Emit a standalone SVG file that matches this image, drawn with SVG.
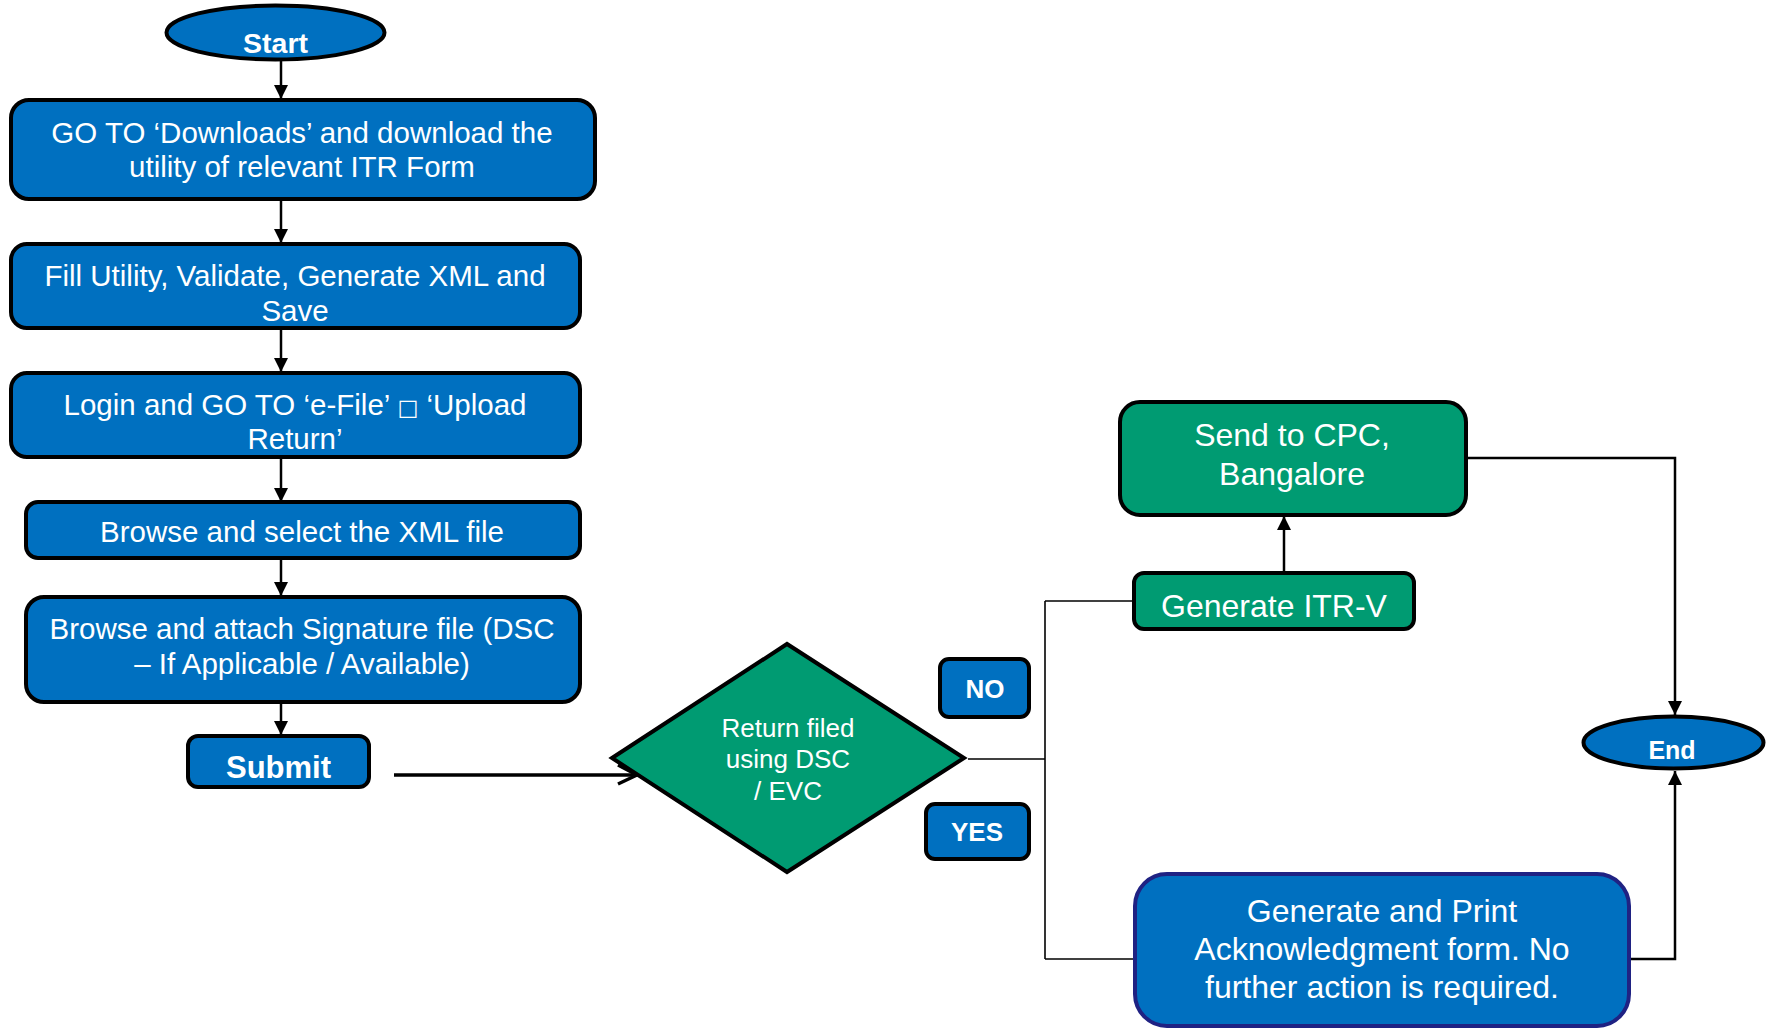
<svg xmlns="http://www.w3.org/2000/svg" width="1768" height="1029" viewBox="0 0 1768 1029">
<defs>
<style>
.blue{fill:#0070C0;stroke:#000;stroke-width:4}
.green{fill:#009B72;stroke:#000;stroke-width:4}
.t{font-family:"Liberation Sans",Arial,sans-serif;fill:#fff;text-anchor:middle}
.b{font-weight:bold}
.l{font-size:29.5px}
.r{font-size:32px}
.arr{stroke:#000;stroke-width:2.5;fill:none}
.thin{stroke:#000;stroke-width:1.6;fill:none}
</style>
<marker id="ah" markerUnits="userSpaceOnUse" markerWidth="14" markerHeight="15" viewBox="0 0 10 10" refX="10" refY="5" orient="auto">
<path d="M0,0 L10,5 L0,10 z" fill="#000"/>
</marker>
</defs>
<rect width="1768" height="1029" fill="#fff"/>
<g id="connectors">
<line class="arr" x1="281" y1="61" x2="281" y2="99" marker-end="url(#ah)"/>
<line class="arr" x1="281" y1="201" x2="281" y2="243" marker-end="url(#ah)"/>
<line class="arr" x1="281" y1="330" x2="281" y2="372" marker-end="url(#ah)"/>
<line class="arr" x1="281" y1="459" x2="281" y2="502" marker-end="url(#ah)"/>
<line class="arr" x1="281" y1="560" x2="281" y2="596" marker-end="url(#ah)"/>
<line class="arr" x1="281" y1="704" x2="281" y2="735" marker-end="url(#ah)"/>
<line stroke="#000" stroke-width="3.5" x1="394" y1="775" x2="637" y2="775"/>
<polyline stroke="#000" stroke-width="3.5" fill="none" points="618,765 637,775 618,784"/>
<path class="thin" d="M968,759 H1045"/>
<path class="thin" d="M1045,601 V959"/>
<path class="thin" d="M1045,601 H1134"/>
<path class="thin" d="M1045,959 H1135"/>
<line class="arr" x1="1284" y1="572" x2="1284" y2="516" marker-end="url(#ah)"/>
<path class="arr" d="M1466,458 H1675 V715" marker-end="url(#ah)"/>
<path class="arr" d="M1629,959 H1675 V771" marker-end="url(#ah)"/>
</g>
<g id="start">
<ellipse class="blue" cx="275.5" cy="32.5" rx="109" ry="27"/>
<text class="t b" x="275.5" y="53" font-size="28.5">Start</text>
</g>
<g id="download">
<rect class="blue" x="11" y="100" width="584" height="99" rx="18"/>
<text class="t l" x="302" y="143">GO TO ‘Downloads’ and download the</text>
<text class="t l" x="302" y="177">utility of relevant ITR Form</text>
</g>
<g id="fill">
<rect class="blue" x="11" y="244" width="569" height="84" rx="16"/>
<text class="t l" x="295" y="286">Fill Utility, Validate, Generate XML and</text>
<text class="t l" x="295" y="321">Save</text>
</g>
<g id="login">
<rect class="blue" x="11" y="373" width="569" height="84" rx="16"/>
<text class="t l" x="295" y="415">Login and GO TO ‘e-File’ <tspan font-family="'DejaVu Sans',sans-serif" font-size="22">□</tspan> ‘Upload</text>
<text class="t l" x="295" y="449">Return’</text>
</g>
<g id="browse">
<rect class="blue" x="26" y="502" width="554" height="56" rx="12"/>
<text class="t l" x="302" y="542">Browse and select the XML file</text>
</g>
<g id="attach">
<rect class="blue" x="26" y="597" width="554" height="105" rx="18"/>
<text class="t l" x="302" y="639">Browse and attach Signature file (DSC</text>
<text class="t l" x="302" y="674">– If Applicable / Available)</text>
</g>
<g id="submit">
<rect class="blue" x="188" y="736" width="181" height="51" rx="10"/>
<text class="t b" x="278.5" y="778" font-size="31">Submit</text>
</g>
<g id="decision">
<polygon class="green" points="612,758 787,644 964,758 787,872"/>
<text class="t" x="788" y="737" font-size="26">Return filed</text>
<text class="t" x="788" y="768" font-size="26">using DSC</text>
<text class="t" x="788" y="800" font-size="26">/ EVC</text>
</g>
<g id="no">
<rect class="blue" x="940" y="659" width="89" height="58" rx="9"/>
<text class="t b" x="985" y="698" font-size="26">NO</text>
</g>
<g id="yes">
<rect class="blue" x="926" y="804" width="103" height="55" rx="9"/>
<text class="t b" x="977" y="841" font-size="26">YES</text>
</g>
<g id="itrv">
<rect class="green" x="1134" y="573" width="280" height="56" rx="10"/>
<text class="t r" x="1274" y="617">Generate ITR-V</text>
</g>
<g id="cpc">
<rect class="green" x="1120" y="402" width="346" height="113" rx="20"/>
<text class="t r" x="1292" y="446">Send to CPC,</text>
<text class="t r" x="1292" y="485">Bangalore</text>
</g>
<g id="ack">
<rect x="1135" y="874" width="494" height="152" rx="32" fill="#0070C0" stroke="#1F2283" stroke-width="4"/>
<text class="t r" x="1382" y="922">Generate and Print</text>
<text class="t r" x="1382" y="960">Acknowledgment form. No</text>
<text class="t r" x="1382" y="998">further action is required.</text>
</g>
<g id="end">
<ellipse class="blue" cx="1673.5" cy="742.5" rx="90" ry="26"/>
<text class="t b" x="1672" y="759" font-size="25">End</text>
</g>
</svg>
